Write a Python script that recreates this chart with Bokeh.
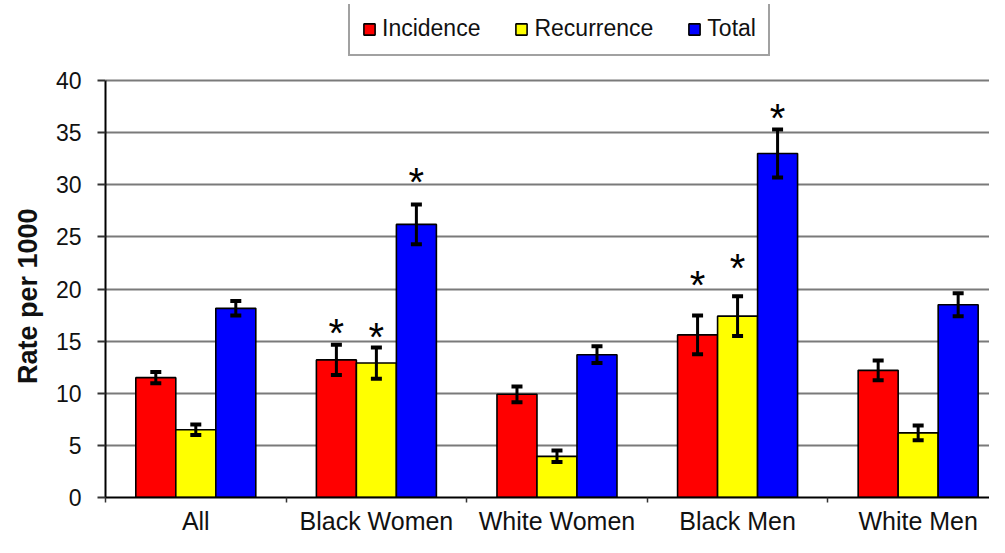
import numpy as np
from bokeh.plotting import figure
from bokeh.models import (ColumnDataSource, Whisker, TeeHead, Legend, LegendItem,
                          FixedTicker, Range1d, Title)
from bokeh.transform import dodge
from bokeh.core.properties import value
from bokeh.embed import file_html
from bokeh.resources import INLINE

# ---- data ----
groups = ["All", "Black Women", "White Women", "Black Men", "White Men"]
series = ["Incidence", "Recurrence", "Total"]
incidence = [11.5, 13.2, 9.9, 15.6, 12.2]
incidence_err = [0.55, 1.45, 0.75, 1.85, 0.95]
recurrence = [6.5, 12.9, 3.95, 17.4, 6.2]
recurrence_err = [0.5, 1.5, 0.55, 1.9, 0.7]
total = [18.15, 26.2, 13.7, 33.0, 18.5]
total_err = [0.7, 1.9, 0.8, 2.3, 1.1]
# significance asterisks
star_group = ["Black Women", "Black Women", "Black Women", "Black Men", "Black Men", "Black Men"]
star_series = ["Incidence", "Recurrence", "Total", "Incidence", "Recurrence", "Total"]
star_y = [16.8, 16.5, 31.3, 21.4, 23.1, 37.5]
y_ticks = [0, 5, 10, 15, 20, 25, 30, 35, 40]
colors = ["#FF0000", "#FFFF00", "#0000FF"]

FONT = "Liberation Sans"
BAR_W = 0.2215
offsets = {"Incidence": -BAR_W, "Recurrence": 0.0, "Total": BAR_W}

gx = np.arange(len(groups)) + 0.5

# y range extends above 40 so that the legend can sit inside the frame area
p = figure(width=989, height=537, output_backend="svg", toolbar_location=None,
           x_range=Range1d(0, 4.895), y_range=Range1d(0, 47.3),
           min_border_left=105, min_border_right=0, min_border_top=4,
           min_border_bottom=0)
p.outline_line_color = None
p.background_fill_color = "white"

vals = {"Incidence": (incidence, incidence_err),
        "Recurrence": (recurrence, recurrence_err),
        "Total": (total, total_err)}

renderers = {}
for s, c in zip(series, colors):
    v, e = vals[s]
    src = ColumnDataSource(dict(x=gx, top=v,
                                upper=[a + b for a, b in zip(v, e)],
                                lower=[a - b for a, b in zip(v, e)]))
    r = p.vbar(x=dodge("x", offsets[s], range=p.x_range), top="top", width=BAR_W,
               bottom=0, source=src, fill_color=c, line_color="black", line_width=1.6)
    renderers[s] = r
    w = Whisker(base=dodge("x", offsets[s], range=p.x_range), upper="upper",
                lower="lower", source=src, line_color="black", line_width=3,
                upper_head=TeeHead(size=11, line_width=4, line_color="black"),
                lower_head=TeeHead(size=11, line_width=4, line_color="black"),
                level="overlay")
    p.add_layout(w)

# asterisks
sx = [gx[groups.index(g)] + offsets[s] for g, s in zip(star_group, star_series)]
star_src = ColumnDataSource(dict(x=sx, y=star_y, t=["*"] * len(sx)))
p.text(x="x", y="y", text="t", source=star_src, text_align="center",
       text_baseline="middle", text_font=value(FONT), text_font_size="40px",
       text_color="black", y_offset=11)

# x axis
p.xaxis.ticker = FixedTicker(ticks=list(gx), minor_ticks=list(range(len(groups) + 1)))
p.xaxis.major_label_overrides = {float(x): g for x, g in zip(gx, groups)}
p.xaxis.major_tick_line_color = None
p.xaxis.major_tick_out = 0
p.xaxis.major_tick_in = 0
p.xaxis.minor_tick_out = 5
p.xaxis.minor_tick_in = 0
p.xaxis.minor_tick_line_color = "#333333"
p.xaxis.minor_tick_line_width = 1.5
p.xaxis.axis_line_color = "black"
p.xaxis.axis_line_width = 2
p.xaxis.major_label_text_font = FONT
p.xaxis.major_label_text_font_size = "25px"
p.xaxis.major_label_text_color = "#111111"
p.xaxis.major_label_standoff = 4

# y axis
p.yaxis.ticker = FixedTicker(ticks=y_ticks)
p.yaxis.bounds = (0, 40)
p.yaxis.minor_tick_line_color = None
p.yaxis.major_tick_out = 8
p.yaxis.major_tick_in = 0
p.yaxis.major_tick_line_width = 2
p.yaxis.major_tick_line_color = "#333333"
p.yaxis.axis_line_color = "black"
p.yaxis.axis_line_width = 2
p.yaxis.major_label_text_font = FONT
p.yaxis.major_label_text_font_size = "23px"
p.yaxis.major_label_text_color = "#111111"
p.yaxis.major_label_standoff = 16

ylab = Title(text="Rate per 1000", align="right", offset=204,
             text_font=FONT, text_font_size="27px", text_font_style="bold",
             text_color="#111111", standoff=20)
p.add_layout(ylab, "left")

p.xgrid.grid_line_color = None
p.ygrid.ticker = FixedTicker(ticks=y_ticks)
p.ygrid.grid_line_color = "#7a7a7a"
p.ygrid.grid_line_width = 2

legend = Legend(items=[LegendItem(label=s, renderers=[renderers[s]]) for s in series],
                location=(243, 441), orientation="horizontal",
                label_text_font=FONT, label_text_font_size="23px",
                label_text_color="#111111", glyph_width=14, glyph_height=14,
                label_standoff=6, spacing=34, padding=12,
                border_line_color="#444444", border_line_width=2,
                background_fill_color="white", background_fill_alpha=1.0)
p.add_layout(legend, "center")

open("out.html", "w").write(file_html(p, INLINE))
